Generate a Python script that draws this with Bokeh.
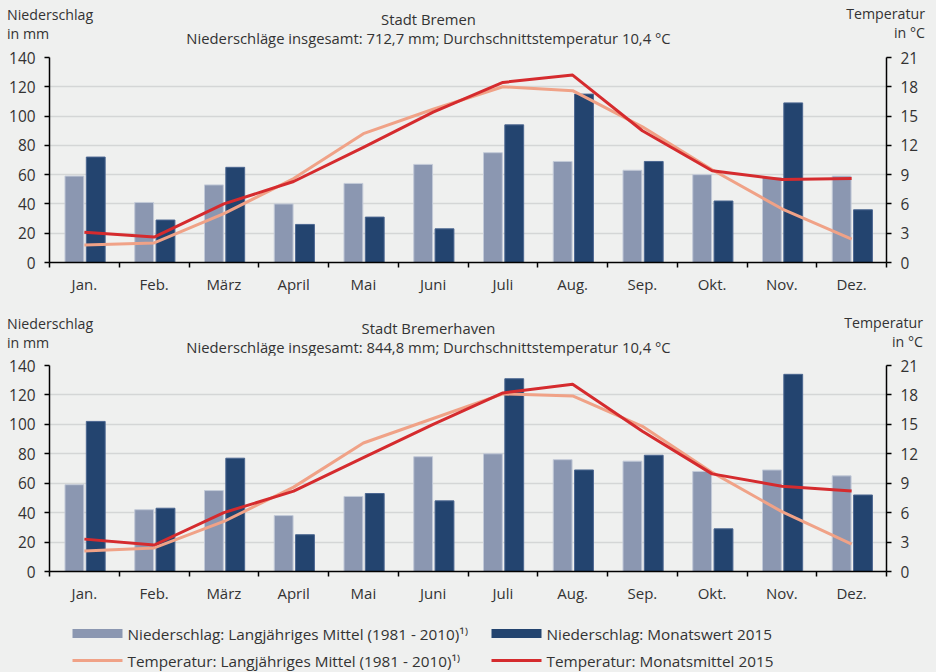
from bokeh.plotting import figure
from bokeh.models import Range1d, LinearAxis, FixedTicker, Div
from bokeh.layouts import column
from bokeh.core.properties import value
from bokeh.embed import file_html
from bokeh.resources import INLINE

# ---------------- data ----------------
months = ["Jan.", "Feb.", "März", "April", "Mai", "Juni",
          "Juli", "Aug.", "Sep.", "Okt.", "Nov.", "Dez."]

# Stadt Bremen
hb_title = "Stadt Bremen"
hb_subtitle = "Niederschläge insgesamt: 712,7 mm; Durchschnittstemperatur 10,4 °C"
hb_precip_mean = [59, 41, 53, 40, 54, 67, 75, 69, 63, 60, 58, 59]
hb_precip_2015 = [72, 29, 65, 26, 31, 23, 94, 115, 69, 42, 109, 36]
hb_temp_mean = [1.8, 2.0, 5.0, 8.6, 13.2, 15.7, 18.0, 17.6, 13.9, 9.5, 5.5, 2.4]
hb_temp_2015 = [3.1, 2.6, 6.0, 8.3, 11.8, 15.4, 18.45, 19.2, 13.5, 9.4, 8.5, 8.6]

# Stadt Bremerhaven
bhv_title = "Stadt Bremerhaven"
bhv_subtitle = "Niederschläge insgesamt: 844,8 mm; Durchschnittstemperatur 10,4 °C"
bhv_precip_mean = [59, 42, 55, 38, 51, 78, 80, 76, 75, 68, 69, 65]
bhv_precip_2015 = [102, 43, 77, 25, 53, 48, 131, 69, 79, 29, 134, 52]
bhv_temp_mean = [2.1, 2.4, 5.1, 8.6, 13.1, 15.6, 18.1, 17.9, 14.8, 10.1, 6.1, 2.8]
bhv_temp_2015 = [3.3, 2.7, 6.0, 8.2, 11.6, 15.0, 18.2, 19.1, 14.3, 9.95, 8.7, 8.2]

precip_ticks = [0, 20, 40, 60, 80, 100, 120, 140]
temp_ticks = [0, 3, 6, 9, 12, 15, 18, 21]

y_left_title = ["Niederschlag", "in mm"]
y_right_title = ["Temperatur", "in °C"]

legend_labels = [
    "Niederschlag: Langjähriges Mittel (1981 - 2010)¹⁾",
    "Niederschlag: Monatswert 2015",
    "Temperatur: Langjähriges Mittel (1981 - 2010)¹⁾",
    "Temperatur: Monatsmittel 2015",
]

# ---------------- style ----------------
BG = "#eff0ef"
GRID = "#d4d6d6"
TXT = "#333333"
FONT = "Open Sans"
C_LIGHT = "#8b97b1"
C_DARK = "#23446f"
C_SALMON = "#f0a287"
C_RED = "#d52b2e"

W = 936
LEFT, RIGHT = 49, 50
N = len(months)


def header(height, top_px, title, subtitle, rows, right_x):
    """HTML header block; rows are page-pixel centres of
    (axis title line 1, chart title, axis title line 2, subtitle)."""
    ya, yt, yb, ys = [r - top_px for r in rows]
    base = "position:absolute;white-space:nowrap;"
    lh_ax = 19
    lh = 14
    ax_font = "font-size:14.2px;line-height:%dpx;" % lh_ax
    ti_font = "font-size:14.8px;line-height:%dpx;" % lh
    html = (
        '<div style="position:relative;width:%dpx;height:%dpx;font-family:\'%s\';color:%s;">'
        % (W, height, FONT, TXT)
    )
    html += '<div style="%s%sleft:7px;top:%.1fpx;">%s<br>%s</div>' % (
        base, ax_font, ya - lh_ax / 2, y_left_title[0], y_left_title[1])
    html += '<div style="%s%sright:%dpx;top:%.1fpx;text-align:right;">%s<br>%s</div>' % (
        base, ax_font, W - right_x, ya - 1 - lh_ax / 2, y_right_title[0], y_right_title[1])
    html += '<div style="%s%sleft:0px;width:857px;text-align:center;top:%dpx;">%s</div>' % (
        base, ti_font, yt - lh // 2, title)
    html += '<div style="%s%sleft:0px;width:857px;text-align:center;top:%dpx;">%s</div>' % (
        base, ti_font, ys - lh // 2, subtitle)
    html += "</div>"
    return Div(text=html, width=W, height=height, margin=(0, 0, 0, 0),
               styles={"background-color": BG, "overflow": "visible"})


def make_chart(pm, p15, tm, t15, height, top, bottom):
    p = figure(width=W, height=height, x_range=Range1d(0, N),
               y_range=Range1d(precip_ticks[0], precip_ticks[-1]),
               output_backend="svg", toolbar_location=None,
               min_border_left=LEFT, min_border_right=RIGHT,
               min_border_top=top, min_border_bottom=bottom,
               background_fill_color=BG, border_fill_color=BG,
               outline_line_color=None)
    p.extra_y_ranges = {"temp": Range1d(temp_ticks[0], temp_ticks[-1])}

    def style_y(ax):
        ax.axis_line_color = "black"
        ax.axis_line_width = 1.5
        ax.major_tick_line_color = "black"
        ax.major_tick_line_width = 1.5
        ax.major_tick_out = 5
        ax.major_tick_in = 0
        ax.minor_tick_line_color = None
        ax.major_label_standoff = 9
        ax.major_label_text_font = FONT
        ax.major_label_text_font_size = "15.4px"
        ax.major_label_text_color = TXT

    ya = p.yaxis[0]
    ya.ticker = FixedTicker(ticks=precip_ticks)
    style_y(ya)

    ra = LinearAxis(y_range_name="temp", ticker=FixedTicker(ticks=temp_ticks))
    style_y(ra)
    p.add_layout(ra, "right")

    centers = [i + 0.5 for i in range(N)]
    xa = p.xaxis[0]
    xa.ticker = FixedTicker(ticks=centers, minor_ticks=list(range(N + 1)))
    xa.major_label_overrides = {c: m for c, m in zip(centers, months)}
    xa.axis_line_color = "black"
    xa.axis_line_width = 1.5
    xa.major_tick_line_color = None
    xa.major_tick_out = 0
    xa.major_tick_in = 0
    xa.minor_tick_line_color = "black"
    xa.minor_tick_line_width = 1.5
    xa.minor_tick_out = 5
    xa.minor_tick_in = 0
    xa.major_label_standoff = 6
    xa.major_label_text_font = FONT
    xa.major_label_text_font_size = "15px"
    xa.major_label_text_color = TXT

    p.xgrid.grid_line_color = None
    p.ygrid.ticker = FixedTicker(ticks=precip_ticks[1:])
    p.ygrid.grid_line_color = GRID
    p.ygrid.grid_line_width = 1.5

    x_light = [c - 0.143 for c in centers]
    x_dark = [c + 0.163 for c in centers]
    p.vbar(x=x_light, top=pm, bottom=0, width=0.27,
           fill_color=C_LIGHT, line_color="#c3cad8", line_width=1)
    p.vbar(x=x_dark, top=p15, bottom=0, width=0.27,
           fill_color=C_DARK, line_color="#4b6690", line_width=1)

    p.line(x=centers, y=tm, y_range_name="temp", line_color=C_SALMON,
           line_width=3, line_join="round")
    p.line(x=centers, y=t15, y_range_name="temp", line_color=C_RED,
           line_width=3, line_join="round")
    return p


# page layout (pixels from top): header1 0-47, chart1 47-300, header2 300-355,
# chart2 355-605, legend 605-672
h1 = header(47, 0, hb_title, hb_subtitle, (14, 19, 33, 38), 925)
c1 = make_chart(hb_precip_mean, hb_precip_2015, hb_temp_mean, hb_temp_2015, 253, 10, 38)
h2 = header(55, 300, bhv_title, bhv_subtitle, (323, 328, 342, 347), 923)
c2 = make_chart(bhv_precip_mean, bhv_precip_2015, bhv_temp_mean, bhv_temp_2015, 250, 10, 32)

# ---------------- legend ----------------
LH = 67
LTOP = 605
pl = figure(width=W, height=LH, x_range=Range1d(LEFT, W - RIGHT), y_range=Range1d(LH, 0),
            output_backend="svg", toolbar_location=None,
            min_border_left=LEFT, min_border_right=RIGHT, min_border_top=0, min_border_bottom=0,
            background_fill_color=BG, border_fill_color=BG,
            outline_line_color=None, x_axis_type=None, y_axis_type=None)
pl.xgrid.grid_line_color = None
pl.ygrid.grid_line_color = None

col_x = [72, 491]
row_y = [633 - LTOP, 660 - LTOP]
sw = 50
pl.quad(left=[col_x[0], col_x[1]], right=[col_x[0] + sw, col_x[1] + sw],
        bottom=[row_y[0] + 4.5] * 2, top=[row_y[0] - 4.5] * 2,
        fill_color=[C_LIGHT, C_DARK], line_color=None)
pl.segment(x0=[col_x[0], col_x[1]], x1=[col_x[0] + sw, col_x[1] + sw],
           y0=[row_y[1]] * 2, y1=[row_y[1]] * 2,
           line_color=[C_SALMON, C_RED], line_width=3)
pl.text(x=[col_x[0] + sw + 5, col_x[1] + sw + 5, col_x[0] + sw + 5, col_x[1] + sw + 5],
        y=[row_y[0], row_y[0], row_y[1], row_y[1]], text=legend_labels,
        text_font=value(FONT), text_font_size="15.3px", text_color=TXT,
        text_baseline="middle", text_align="left")

layout = column(h1, c1, h2, c2, pl, spacing=0, styles={"background-color": BG})
open("out.html", "w").write(file_html(layout, INLINE))
